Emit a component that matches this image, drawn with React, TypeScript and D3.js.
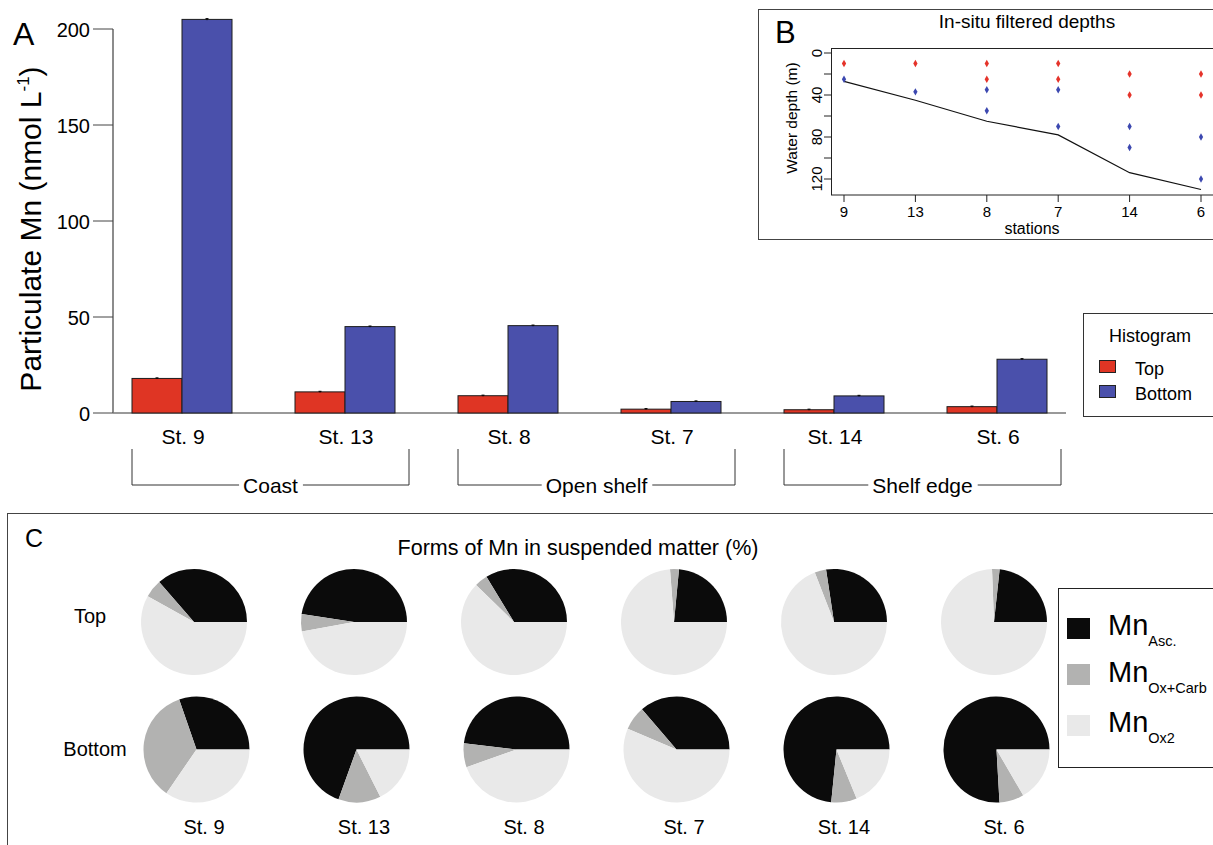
import React, { useEffect, useRef } from 'react';
import * as d3 from 'd3';

// ---- Panel A: particulate Mn (nmol L-1) ----
const stations = ['St. 9', 'St. 13', 'St. 8', 'St. 7', 'St. 14', 'St. 6'];
const seriesNames = ['Top', 'Bottom'];
const topMn = [18, 11, 9, 2, 1.7, 3.3];
const bottomMn = [205, 45, 45.5, 6, 8.9, 28];
const topErr = [0.3, 0.3, 0.3, 0.3, 0.3, 0.3];
const bottomErr = [0.4, 0.3, 0.3, 0.3, 0.3, 0.3];
const yTicksA = [0, 50, 100, 150, 200];
const regionNames = ['Coast', 'Open shelf', 'Shelf edge'];
const regionFirst = ['St. 9', 'St. 8', 'St. 14'];
const regionLast = ['St. 13', 'St. 7', 'St. 6'];

// ---- Panel B: sampling depths (m) ----
const stationIds = ['9', '13', '8', '7', '14', '6'];
const topDepths = [[10], [10], [10, 25], [10, 25], [20, 40], [20, 40]];
const bottomDepths = [[25], [37], [35, 55], [35, 70], [70, 90], [80, 120]];
const seafloorDepth = [27, 45, 65, 78, 114, 130];
const depthTicks = [0, 20, 40, 60, 80, 100, 120];
const depthLabels = [0, 40, 80, 120];

// ---- Panel C: Mn forms (%) ----
const formNames = ['Asc.', 'Ox+Carb', 'Ox2'];
const ascTop = [36.4, 47.6, 33.7, 23.5, 27.4, 23.3];
const oxCarbTop = [5.5, 5.3, 4.0, 2.7, 3.5, 2.3];
const ox2Top = [58.1, 47.1, 62.3, 73.8, 69.1, 74.4];
const ascBottom = [30.3, 69.5, 48.1, 36.3, 73.4, 75.9];
const oxCarbBottom = [35.1, 12.9, 7.3, 7.3, 7.8, 7.5];
const ox2Bottom = [34.6, 17.6, 44.6, 56.4, 18.8, 16.6];

const RED = '#df3524';
const BLUE = '#4a50ab';
const PT_RED = '#e5332a';
const PT_BLUE = '#3c48b0';
const FORM_COLORS = ['#0b0b0b', '#b2b2b1', '#e9e9e9'];
const FONT = "'Liberation Sans', Arial, Helvetica, sans-serif";

type Sel = d3.Selection<SVGSVGElement, unknown, null, undefined>;

function drawBars(svg: Sel) {
  const g = svg.append('g');
  const y = d3.scaleLinear().domain([0, 200]).range([413, 29]);
  const x = d3.scalePoint<string>().domain(stations).range([182, 997]);
  const xs = d3.scaleBand<string>().domain(seriesNames).range([-50, 50]);
  const colors = [RED, BLUE];
  const values = [topMn, bottomMn];
  const errs = [topErr, bottomErr];

  // panel letter
  g.append('text').attr('x', 13).attr('y', 45).attr('font-size', 32).text('A');

  // y axis
  g.append('line').attr('x1', 113).attr('x2', 113).attr('y1', y(200)).attr('y2', y(0))
    .attr('stroke', '#666').attr('stroke-width', 1.5);
  yTicksA.forEach((t) => {
    g.append('line').attr('x1', 93).attr('x2', 113).attr('y1', y(t)).attr('y2', y(t))
      .attr('stroke', '#444').attr('stroke-width', 1);
    g.append('text').attr('x', 90).attr('y', y(t) + 8).attr('text-anchor', 'end')
      .attr('font-size', 20).text(String(t));
  });
  const yt = g.append('text').attr('transform', 'translate(41,229) rotate(-90)')
    .attr('text-anchor', 'middle').attr('font-size', 30);
  yt.append('tspan').text('Particulate Mn (nmol L');
  yt.append('tspan').attr('font-size', 17).attr('dy', -12).text('-1');
  yt.append('tspan').attr('dy', 12).text(')');

  // baseline
  g.append('line').attr('x1', 113).attr('x2', 1066).attr('y1', y(0)).attr('y2', y(0))
    .attr('stroke', '#777').attr('stroke-width', 1.5);

  // bars
  seriesNames.forEach((s, si) => {
    stations.forEach((st, i) => {
      const v = values[si][i];
      const bx = (x(st) as number) + (xs(s) as number);
      g.append('rect').attr('x', bx).attr('y', y(v)).attr('width', xs.bandwidth())
        .attr('height', y(0) - y(v)).attr('fill', colors[si])
        .attr('stroke', '#1c1c1c').attr('stroke-width', 1);
      const cx = bx + xs.bandwidth() / 2;
      const e = errs[si][i];
      g.append('line').attr('x1', cx).attr('x2', cx).attr('y1', y(v - e)).attr('y2', y(v + e))
        .attr('stroke', '#000').attr('stroke-width', 1);
      g.append('line').attr('x1', cx - 1.5).attr('x2', cx + 1.5).attr('y1', y(v + e)).attr('y2', y(v + e))
        .attr('stroke', '#000').attr('stroke-width', 1);
    });
  });

  // station labels
  stations.forEach((st) => {
    g.append('text').attr('x', (x(st) as number) + 1).attr('y', 444).attr('text-anchor', 'middle')
      .attr('font-size', 21).text(st);
  });

  // region brackets
  regionNames.forEach((name, i) => {
    const x0 = (x(regionFirst[i]) as number) - 50;
    const x1 = (x(regionLast[i]) as number) + 64;
    const cx = (x0 + x1) / 2;
    const t = g.append('text').attr('x', cx).attr('y', 493).attr('text-anchor', 'middle')
      .attr('font-size', 21).text(name);
    const w = (t.node() as SVGTextElement).getComputedTextLength();
    const path = `M${x0},449V485H${cx - w / 2 - 4}M${cx + w / 2 + 5},485H${x1}V449`;
    g.append('path').attr('d', path).attr('fill', 'none').attr('stroke', '#333').attr('stroke-width', 1);
  });

  // legend
  const lg = g.append('g');
  lg.append('rect').attr('x', 1083.5).attr('y', 313.5).attr('width', 140).attr('height', 103)
    .attr('fill', '#fff').attr('stroke', '#333');
  lg.append('text').attr('x', 1150).attr('y', 342).attr('text-anchor', 'middle')
    .attr('font-size', 18).text('Histogram');
  seriesNames.forEach((s, i) => {
    lg.append('rect').attr('x', 1099.5).attr('y', 360.5 + i * 25).attr('width', 16).attr('height', 12)
      .attr('fill', colors[i]).attr('stroke', '#222');
    lg.append('text').attr('x', 1135).attr('y', 375 + i * 24.5).attr('font-size', 18).text(s);
  });
}

function drawDepths(svg: Sel) {
  const g = svg.append('g');
  const x = d3.scalePoint<string>().domain(stationIds).range([844, 1201]);
  const y = d3.scaleLinear().domain([0, 120]).range([53, 179]);

  g.append('rect').attr('x', 758.5).attr('y', 9.5).attr('width', 470).attr('height', 230)
    .attr('fill', '#fff').attr('stroke', '#444');
  g.append('text').attr('x', 775).attr('y', 43).attr('font-size', 31).text('B');
  g.append('text').attr('x', 1027).attr('y', 28).attr('text-anchor', 'middle')
    .attr('font-size', 19).text('In-situ filtered depths');

  // plot frame
  g.append('rect').attr('x', 831.5).attr('y', 48.5).attr('width', 400).attr('height', 146.5)
    .attr('fill', 'none').attr('stroke', '#222');

  depthTicks.forEach((t) => {
    g.append('line').attr('x1', 824).attr('x2', 831.5).attr('y1', y(t)).attr('y2', y(t))
      .attr('stroke', '#222');
  });
  depthLabels.forEach((t) => {
    g.append('text').attr('transform', `translate(822,${y(t)}) rotate(-90)`)
      .attr('text-anchor', 'middle').attr('font-size', 15).text(String(t));
  });
  g.append('text').attr('transform', `translate(797,${(y(0) + y(120)) / 2 + 2}) rotate(-90)`)
    .attr('text-anchor', 'middle').attr('font-size', 15.5).text('Water depth (m)');

  stationIds.forEach((s) => {
    g.append('line').attr('x1', x(s) as number).attr('x2', x(s) as number).attr('y1', 195).attr('y2', 202)
      .attr('stroke', '#222');
    g.append('text').attr('x', x(s) as number).attr('y', 217).attr('text-anchor', 'middle')
      .attr('font-size', 15).text(s);
  });
  g.append('text').attr('x', 1032).attr('y', 234).attr('text-anchor', 'middle')
    .attr('font-size', 16).text('stations');

  // seafloor profile
  const line = d3.line<number>().x((_, i) => x(stationIds[i]) as number).y((d) => y(d));
  g.append('path').attr('d', line(seafloorDepth)).attr('fill', 'none')
    .attr('stroke', '#111').attr('stroke-width', 1.2);

  const sym = d3.symbol().type(d3.symbolDiamond).size(16);
  const groups: [number[][], string][] = [[topDepths, PT_RED], [bottomDepths, PT_BLUE]];
  groups.forEach(([depths, color]) => {
    depths.forEach((ds, i) => {
      ds.forEach((d) => {
        g.append('path').attr('d', sym() as string)
          .attr('transform', `translate(${x(stationIds[i])},${y(d)})`).attr('fill', color);
      });
    });
  });
}

function drawPies(svg: Sel) {
  const g = svg.append('g');
  g.append('rect').attr('x', 7.5).attr('y', 513.5).attr('width', 1220).attr('height', 340)
    .attr('fill', '#fff').attr('stroke', '#444');
  g.append('text').attr('x', 25).attr('y', 547).attr('font-size', 25).text('C');
  g.append('text').attr('x', 578).attr('y', 555).attr('text-anchor', 'middle')
    .attr('font-size', 21.5).text('Forms of Mn in suspended matter (%)');

  const x = d3.scalePoint<string>().domain(stations).range([194, 994]);
  const rows = [
    { name: 'Top', cy: 622, dx: 0, asc: ascTop, oc: oxCarbTop, ox2: ox2Top, lx: 90, ly: 623 },
    { name: 'Bottom', cy: 749.5, dx: 2.5, asc: ascBottom, oc: oxCarbBottom, ox2: ox2Bottom, lx: 95, ly: 756 },
  ];
  // slices start at 3 o'clock and run counter-clockwise
  const pie = d3.pie<number>().sort(null).value((d) => d)
    .startAngle(Math.PI / 2).endAngle(Math.PI / 2 - 2 * Math.PI);
  const arc = d3.arc<d3.PieArcDatum<number>>().innerRadius(0).outerRadius(53);

  rows.forEach((r) => {
    g.append('text').attr('x', r.lx).attr('y', r.ly).attr('text-anchor', 'middle')
      .attr('font-size', 20).text(r.name);
    stations.forEach((st, i) => {
      const vals = [r.asc[i], r.oc[i], r.ox2[i]];
      const pg = g.append('g').attr('transform', `translate(${(x(st) as number) + r.dx},${r.cy})`);
      pie(vals).forEach((a, k) => {
        pg.append('path').attr('d', arc(a) as string).attr('fill', FORM_COLORS[k]);
      });
    });
  });

  stations.forEach((st) => {
    g.append('text').attr('x', (x(st) as number) + 10).attr('y', 834).attr('text-anchor', 'middle')
      .attr('font-size', 20).text(st);
  });

  // legend
  const lg = g.append('g');
  lg.append('rect').attr('x', 1058.5).attr('y', 588.5).attr('width', 200).attr('height', 179)
    .attr('fill', '#fff').attr('stroke', '#222');
  const swY = [618, 664, 715];
  const txY = [635, 682, 732];
  formNames.forEach((f, i) => {
    lg.append('rect').attr('x', 1067).attr('y', swY[i]).attr('width', 23).attr('height', 21)
      .attr('fill', FORM_COLORS[i]);
    const t = lg.append('text').attr('x', 1108).attr('y', txY[i]).attr('font-size', 29);
    t.append('tspan').text('Mn');
    t.append('tspan').attr('font-size', 14.5).attr('dy', 11).text(f);
  });
}

export default function App() {
  const ref = useRef<SVGSVGElement>(null);
  useEffect(() => {
    if (!ref.current) return;
    const svg = d3.select(ref.current) as Sel;
    svg.selectAll('*').remove();
    drawBars(svg);
    drawDepths(svg);
    drawPies(svg);
  }, []);
  return (
    <svg
      ref={ref}
      width={1213}
      height={845}
      fontFamily={FONT}
      style={{ position: 'absolute', left: 0, top: 0, background: '#fff', display: 'block' }}
    />
  );
}
